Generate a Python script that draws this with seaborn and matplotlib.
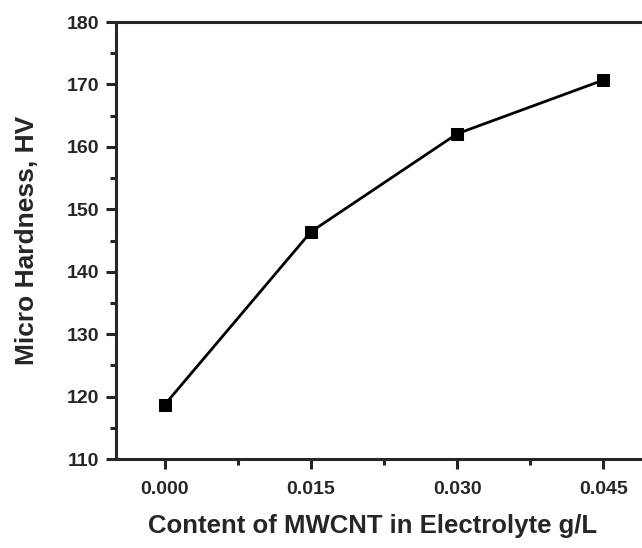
import matplotlib
matplotlib.use('Agg')
import matplotlib.pyplot as plt
import matplotlib.ticker as ticker
import numpy as np
import pandas as pd
import seaborn as sns

# MWCNT content (g/L) and measured micro hardness (HV)
content = [0.000, 0.015, 0.030, 0.045]
hardness = [118.7, 146.4, 162.1, 170.7]
x_ticks = [0.000, 0.015, 0.030, 0.045]
y_ticks = [110, 120, 130, 140, 150, 160, 170, 180]

df = pd.DataFrame({'content': content, 'hardness': hardness})

sns.set_style('ticks')
plt.rcParams['font.family'] = ['Liberation Sans', 'DejaVu Sans']
plt.rcParams['font.weight'] = 'bold'

fig = plt.figure(figsize=(6.42, 5.48), dpi=100)
# the right edge of the frame runs past the image, as in the original
ax = fig.add_axes([0.1807, 0.1624, 0.835, 0.7974])

sns.lineplot(data=df, x='content', y='hardness', ax=ax, color='black',
             linewidth=2, marker='s', markersize=8, markeredgecolor='black')

ax.set_xlim(-0.005, 0.050)
ax.set_ylim(110, 180)
ax.set_xticks(x_ticks)
ax.set_yticks(y_ticks)
ax.xaxis.set_major_formatter(ticker.FuncFormatter(lambda v, pos: '{:.3f}'.format(v)))
ax.xaxis.set_minor_locator(ticker.MultipleLocator(0.0075))
ax.yaxis.set_minor_locator(ticker.MultipleLocator(5))

for side in ['left', 'bottom', 'top', 'right']:
    ax.spines[side].set_linewidth(2.2)
    ax.spines[side].set_visible(True)

ax.tick_params(which='major', direction='out', length=7, width=2.2, labelsize=14)
ax.tick_params(which='minor', direction='out', length=4, width=2.2)
ax.tick_params(axis='x', pad=9)
ax.tick_params(axis='y', pad=5)

ax.set_xlabel('Content of MWCNT in Electrolyte g/L', fontsize=18.5, fontweight='bold')
ax.set_ylabel('Micro Hardness, HV', fontsize=19, fontweight='bold', labelpad=20)
# the x title sits a bit left of the (cut-off) frame centre
ax.xaxis.set_label_coords(0.478, -0.125)

fig.savefig('out.png', dpi=100)
plt.close()
